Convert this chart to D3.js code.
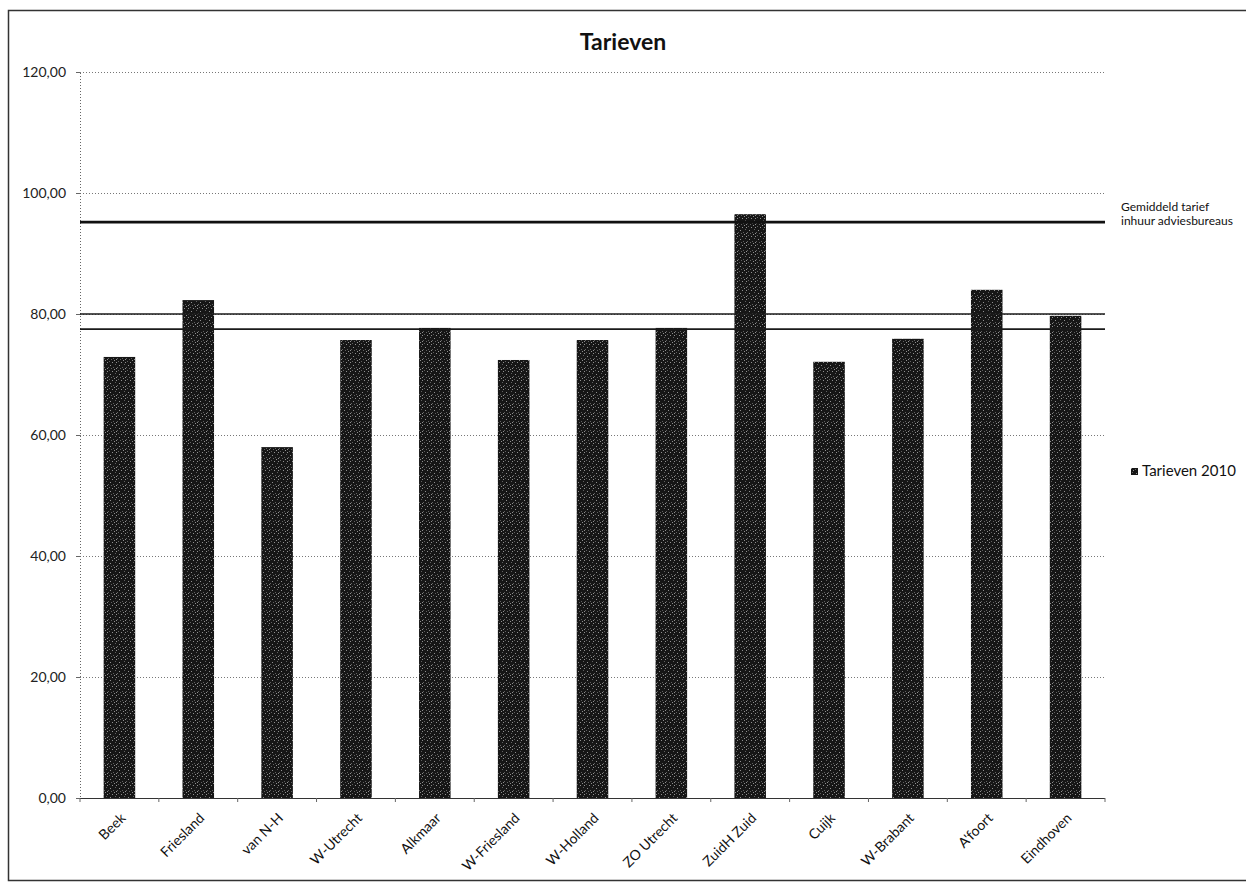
<!DOCTYPE html>
<html>
<head>
<meta charset="utf-8">
<script src="https://cdn.jsdelivr.net/npm/d3@7"></script>
<style>
  html, body { margin: 0; padding: 0; background: #fff; }
  svg { display: block; font-family: Lato, "Open Sans", sans-serif; }
</style>
</head>
<body>
<svg id="chart" width="1246" height="884"></svg>
<script>
// Regions and their 2010 rates
const regions = ["Beek", "Friesland", "van N-H", "W-Utrecht", "Alkmaar", "W-Friesland",
  "W-Holland", "ZO Utrecht", "ZuidH Zuid", "Cuijk", "W-Brabant", "A'foort", "Eindhoven"];
const rates2010 = [72.9, 82.3, 58.0, 75.7, 77.7, 72.4, 75.7, 77.7, 96.5, 72.1, 75.9, 84.0, 79.7];

// Reference levels drawn across the plot
const consultancyAvg = 95.2;            // Gemiddeld tarief inhuur adviesbureaus
const referenceLevels = [80.0, 77.5];

const yTicks = [0, 20, 40, 60, 80, 100, 120];
const fmt = v => d3.format(".2f")(v).replace(".", ",");

const svg = d3.select("#chart");
const plot = { left: 80, right: 1105, top: 72, bottom: 798 };

const x = d3.scaleBand().domain(regions).range([plot.left, plot.right])
  .paddingInner(0.6).paddingOuter(0.3);
const y = d3.scaleLinear().domain([0, 120]).range([plot.bottom, plot.top]);

// Bar texture: near-black with light speckles
const defs = svg.append("defs");
const pat = defs.append("pattern").attr("id", "speckle")
  .attr("patternUnits", "userSpaceOnUse").attr("width", 9).attr("height", 9);
pat.append("rect").attr("width", 9).attr("height", 9).attr("fill", "#161616");
[[1,1],[4,2],[7,4],[2,5],[5,7],[8,8],[0,7],[6,0],[3,8],[8,2]].forEach(([px, py], i) => {
  pat.append("rect").attr("x", px).attr("y", py).attr("width", 1).attr("height", 1)
    .attr("fill", i % 2 ? "#909090" : "#606060");
});

// Outer frame
svg.append("rect").attr("x", 8.5).attr("y", 10.5).attr("width", 1245).attr("height", 870)
  .attr("fill", "none").attr("stroke", "#333").attr("stroke-width", 1.5);

// Title
svg.append("text").attr("x", 623).attr("y", 50).attr("text-anchor", "middle")
  .attr("font-size", 23).attr("font-weight", "bold").attr("fill", "#111").text("Tarieven");

// Gridlines
svg.append("g").selectAll("line").data(yTicks.filter(t => t > 0)).join("line")
  .attr("x1", plot.left).attr("x2", plot.right)
  .attr("y1", d => y(d) + 0.5).attr("y2", d => y(d) + 0.5)
  .attr("stroke", "#777").attr("stroke-width", 1).attr("stroke-dasharray", "1,2");

// Y axis
const yAxis = svg.append("g").attr("transform", `translate(${plot.left},0)`)
  .call(d3.axisLeft(y).tickValues(yTicks).tickFormat(fmt).tickSize(4).tickPadding(10));
yAxis.select(".domain").attr("stroke", "#666").attr("stroke-dasharray", "1,2");
yAxis.selectAll(".tick line").attr("stroke", "#666");
yAxis.selectAll("text").attr("font-size", 14).attr("fill", "#222")
  .attr("font-family", "Lato, 'Open Sans', sans-serif");

// Bars
svg.append("g").selectAll("rect").data(regions).join("rect")
  .attr("x", d => x(d)).attr("width", x.bandwidth())
  .attr("y", (d, i) => y(rates2010[i]))
  .attr("height", (d, i) => y(0) - y(rates2010[i]))
  .attr("fill", "url(#speckle)");

// Reference lines
svg.append("g").selectAll("line").data(referenceLevels).join("line")
  .attr("x1", plot.left).attr("x2", plot.right)
  .attr("y1", d => y(d)).attr("y2", d => y(d))
  .attr("stroke", "#1a1a1a").attr("stroke-width", 1.6);
svg.append("line")
  .attr("x1", plot.left).attr("x2", plot.right)
  .attr("y1", y(consultancyAvg)).attr("y2", y(consultancyAvg))
  .attr("stroke", "#111").attr("stroke-width", 2.8);

// X axis
const step = x.step();
const xAxis = svg.append("g");
xAxis.append("line").attr("x1", plot.left).attr("x2", plot.right)
  .attr("y1", y(0) + 0.5).attr("y2", y(0) + 0.5).attr("stroke", "#333").attr("stroke-width", 1.2);
xAxis.selectAll("line.tick").data(d3.range(regions.length + 1)).join("line")
  .attr("class", "tick")
  .attr("x1", i => plot.left + i * step).attr("x2", i => plot.left + i * step)
  .attr("y1", y(0)).attr("y2", y(0) + 4).attr("stroke", "#666");
xAxis.selectAll("text").data(regions).join("text")
  .attr("transform", d => `translate(${x(d) + x.bandwidth() / 2 + 7},${y(0) + 21}) rotate(-45)`)
  .attr("text-anchor", "end").attr("font-size", 14).attr("fill", "#111").text(d => d);

// Annotation for the consultancy average
const note = svg.append("text").attr("font-size", 12).attr("fill", "#111");
note.append("tspan").attr("x", 1121).attr("y", 211).text("Gemiddeld tarief");
note.append("tspan").attr("x", 1121).attr("y", 225).text("inhuur adviesbureaus");

// Legend
svg.append("rect").attr("x", 1131).attr("y", 468).attr("width", 7).attr("height", 7)
  .attr("fill", "url(#speckle)");
svg.append("text").attr("x", 1142).attr("y", 476).attr("font-size", 15).attr("fill", "#111")
  .text("Tarieven 2010");
</script>
</body>
</html>
